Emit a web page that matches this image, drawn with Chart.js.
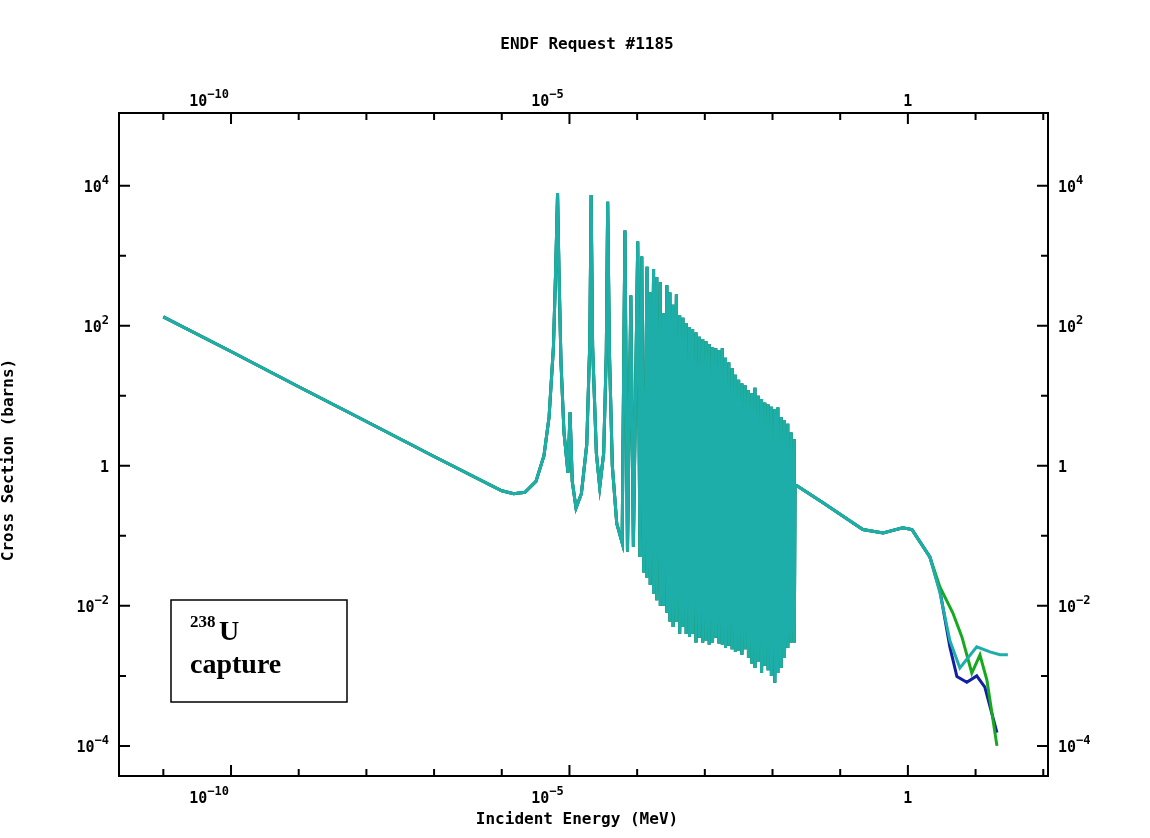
<!DOCTYPE html>
<html>
<head>
<meta charset="utf-8">
<script src="https://cdn.jsdelivr.net/npm/chart.js@4/dist/chart.umd.min.js"></script>
<style>
  body { margin: 0; background: #fff; }
  #wrap { width: 1150px; height: 838px; }
</style>
</head>
<body>
<div id="wrap"><canvas id="myChart" width="1150" height="838"></canvas></div>
<script>
// thermal + low resonances (MeV, barns)
const lowEnergy = [1e-11, 1e-10, 1e-9, 1e-8, 1e-7, 1e-6, 1.5e-6, 2.2e-6, 3.2e-6, 4.2e-6, 5.0e-6, 5.8e-6, 6.3e-6, 6.67e-6,
  7.0e-6, 7.5e-6, 8.3e-6, 9.5e-6, 1.02e-5, 1.1e-5, 1.25e-5, 1.5e-5, 1.8e-5, 2.0e-5, 2.09e-5, 2.2e-5, 2.5e-5, 2.8e-5,
  3.2e-5, 3.5e-5, 3.67e-5, 3.9e-5, 4.3e-5, 5e-5, 6e-5, 6.6e-5, 7.2e-5, 8.07e-5, 8.8e-5, 1.02e-4, 1.1e-4, 1.17e-4, 1.25e-4];
const lowSigma = [134, 43, 13.5, 4.3, 1.36, 0.44, 0.4, 0.42, 0.6, 1.4, 5, 50, 800, 7900,
  600, 30, 3, 0.8, 5.8, 0.6, 0.25, 0.4, 2, 60, 7400, 50, 1.5, 0.5,
  1.5, 40, 5900, 40, 1, 0.15, 0.08, 2300, 0.06, 270, 0.07, 1600, 0.05, 980, 0.03];

// dense resolved resonances: each spike has a top and a bottom value
const spikeEnergy = [1.40e-4, 1.56e-4, 1.75e-4, 1.95e-4, 2.2e-4, 2.45e-4, 2.75e-4, 3.05e-4, 3.4e-4, 3.8e-4, 4.25e-4,
  4.75e-4, 5.3e-4, 5.95e-4, 6.6e-4, 7.4e-4, 8.3e-4, 9.3e-4, 1.04e-3, 1.16e-3, 1.30e-3, 1.45e-3, 1.62e-3, 1.81e-3,
  2.02e-3, 2.26e-3, 2.53e-3, 2.83e-3, 3.16e-3, 3.53e-3, 3.95e-3, 4.41e-3, 4.93e-3, 5.51e-3, 6.16e-3, 6.89e-3, 7.70e-3,
  8.61e-3, 9.62e-3, 1.08e-2, 1.2e-2, 1.34e-2, 1.5e-2, 1.68e-2, 1.88e-2, 2.1e-2];
const spikeTop = [700, 300, 650, 500, 420, 150, 380, 300, 200, 280, 140, 130, 110, 95, 90, 80, 70, 65, 60, 55, 50, 48,
  45, 48, 35, 30, 25, 20, 17, 15, 14, 12, 11, 13, 10, 9, 8, 7.5, 7, 6.5, 6.8, 5, 4.5, 4, 3, 2.4];
const spikeBottom = [0.025, 0.02, 0.015, 0.012, 0.01, 0.01, 0.008, 0.006, 0.005, 0.006, 0.004, 0.005, 0.004, 0.0036,
  0.004, 0.003, 0.0035, 0.003, 0.0032, 0.0028, 0.003, 0.0035, 0.0029, 0.0028, 0.0025, 0.0027, 0.0024, 0.0022, 0.0023,
  0.002, 0.0024, 0.0018, 0.0015, 0.0013, 0.0016, 0.0011, 0.0014, 0.0012, 0.001, 0.0008, 0.0011, 0.0013, 0.0018,
  0.0025, 0.003, 0.003];

// smooth region shared by all evaluations
const highEnergy = [2.15e-2, 5.5e-2, 0.216, 0.43, 0.84, 1.15, 2.11];
const highSigma = [0.54, 0.3, 0.123, 0.11, 0.13, 0.123, 0.05];

// fast region, one tail per library
const tealEnergy = [2.97, 4.17, 5.86, 10.4, 16.3, 22.9, 30];
const tealSigma = [0.0155, 0.0032, 0.0013, 0.0026, 0.0022, 0.002, 0.002];
const blueEnergy = [2.97, 4.17, 5.3, 7.43, 10.4, 13.7, 20.7];
const blueSigma = [0.0166, 0.0026, 0.00098, 0.00081, 0.001, 0.00069, 0.000155];
const greenEnergy = [2.97, 4.62, 6.28, 8.8, 11.6, 14.7, 20.7];
const greenSigma = [0.0186, 0.0079, 0.0036, 0.0011, 0.002, 0.00087, 0.0001];

const xTicks = [1e-11, 1e-10, 1e-9, 1e-8, 1e-7, 1e-6, 1e-5, 1e-4, 1e-3, 1e-2, 1e-1, 1, 10, 100];
const xLabels = { '1e-10': ['10', '\u2212' + '10'], '0.00001': ['10', '\u22125'], '1': ['1', ''] };
const yTicks = [1e-4, 1e-3, 1e-2, 1e-1, 1, 10, 100, 1000, 1e4];
const yLabels = { '0.0001': ['10', '\u22124'], '0.01': ['10', '\u22122'], '1': ['1', ''], '100': ['10', '2'], '10000': ['10', '4'] };

function common() {
  const pts = lowEnergy.map((e, i) => ({ x: e, y: lowSigma[i] }));
  spikeEnergy.forEach((e, i) => {
    pts.push({ x: e, y: spikeTop[i] });
    pts.push({ x: e, y: spikeBottom[i] });
  });
  highEnergy.forEach((e, i) => pts.push({ x: e, y: highSigma[i] }));
  return pts;
}
function withTail(en, sg) {
  return common().concat(en.map((e, i) => ({ x: e, y: sg[i] })));
}

const XMIN = Math.pow(10, -11.655), XMAX = Math.pow(10, 2.07);
const YMIN = Math.pow(10, -4.43), YMAX = Math.pow(10, 5.04);
const BASE = 'bold 15px "DejaVu Sans Mono"', SUP = 'bold 12px "DejaVu Sans Mono"';

function fixTicks(list) {
  return function (scale) { scale.ticks = list.map(v => ({ value: v })); };
}

// draw "10" + raised exponent; anchor: 'right' end at x, 'left' start at x, 'center'
function powLabel(ctx, parts, x, y, anchor) {
  ctx.font = BASE;
  const w1 = ctx.measureText(parts[0]).width;
  ctx.font = SUP;
  const w2 = ctx.measureText(parts[1]).width;
  const w = w1 + w2;
  let x0 = anchor === 'right' ? x - w : anchor === 'left' ? x : x - w / 2;
  ctx.textAlign = 'left';
  ctx.textBaseline = 'alphabetic';
  ctx.font = BASE;
  ctx.fillText(parts[0], x0, y);
  ctx.font = SUP;
  ctx.fillText(parts[1], x0 + w1, y - 8);
}

const frame = {
  id: 'frame',
  afterDraw(chart) {
    const { ctx, chartArea: a } = chart;
    ctx.save();
    ctx.strokeStyle = '#000';
    ctx.fillStyle = '#000';
    ctx.lineWidth = 2;
    ctx.strokeRect(a.left, a.top, a.right - a.left, a.bottom - a.top);
    const xs = chart.scales.x, ys = chart.scales.y;
    xTicks.forEach(v => {
      const p = xs.getPixelForValue(v);
      const lab = xLabels[String(v)];
      const len = lab ? 11 : 7;
      ctx.beginPath();
      ctx.moveTo(p, a.bottom); ctx.lineTo(p, a.bottom - len);
      ctx.moveTo(p, a.top); ctx.lineTo(p, a.top + len);
      ctx.stroke();
      if (lab) {
        const shift = lab[1] ? -22 : 0;
        powLabel(ctx, lab, p + shift, 803, 'center');
        powLabel(ctx, lab, p + shift, 106, 'center');
      }
    });
    yTicks.forEach(v => {
      const p = ys.getPixelForValue(v);
      const lab = yLabels[String(v)];
      const len = lab ? 11 : 7;
      ctx.beginPath();
      ctx.moveTo(a.left, p); ctx.lineTo(a.left + len, p);
      ctx.moveTo(a.right, p); ctx.lineTo(a.right - len, p);
      ctx.stroke();
      if (lab) {
        powLabel(ctx, lab, a.left - 10, p + 6, 'right');
        powLabel(ctx, lab, a.right + 10, p + 6, 'left');
      }
    });
    ctx.font = 'bold 16px "DejaVu Sans Mono"';
    ctx.textAlign = 'center';
    ctx.textBaseline = 'middle';
    ctx.fillText('ENDF Request #1185', 587, 45);
    ctx.fillText('Incident Energy (MeV)', 577, 820);
    ctx.save();
    ctx.translate(9, 460);
    ctx.rotate(-Math.PI / 2);
    ctx.fillText('Cross Section (barns)', 0, 0);
    ctx.restore();
    // annotation box
    ctx.lineWidth = 1.5;
    ctx.fillStyle = '#fff';
    ctx.fillRect(171, 600, 176, 102);
    ctx.strokeRect(171, 600, 176, 102);
    ctx.fillStyle = '#000';
    ctx.textAlign = 'left';
    ctx.textBaseline = 'alphabetic';
    ctx.font = 'bold 17px "Liberation Serif"';
    ctx.fillText('238', 190, 627);
    ctx.font = 'bold 28px "Liberation Serif"';
    ctx.fillText('U', 219, 640);
    ctx.fillText('capture', 190, 673);
    ctx.restore();
  }
};

const hidden = { display: false };
new Chart(document.getElementById('myChart'), {
  type: 'line',
  data: {
    datasets: [
      { label: 'teal', data: withTail(tealEnergy, tealSigma), borderColor: '#1eaeaa', order: 0 },
      { label: 'green', data: withTail(greenEnergy, greenSigma), borderColor: '#18a820', order: 1 },
      { label: 'blue', data: withTail(blueEnergy, blueSigma), borderColor: '#1020a0', order: 2 },
    ].map(d => Object.assign(d, { borderWidth: 3, pointRadius: 0, fill: false, tension: 0 })),
  },
  options: {
    responsive: false,
    animation: false,
    parsing: false,
    normalized: true,
    layout: { padding: 0 },
    plugins: { legend: { display: false }, tooltip: { enabled: false } },
    scales: {
      x: {
        type: 'logarithmic', position: 'bottom', min: XMIN, max: XMAX,
        afterBuildTicks: fixTicks(xTicks), afterFit: s => { s.height = 62; },
        grid: hidden, border: hidden, ticks: hidden,
      },
      x2: {
        type: 'logarithmic', position: 'top', min: XMIN, max: XMAX,
        afterBuildTicks: fixTicks(xTicks), afterFit: s => { s.height = 113; },
        grid: hidden, border: hidden, ticks: hidden,
      },
      y: {
        type: 'logarithmic', position: 'left', min: YMIN, max: YMAX,
        afterBuildTicks: fixTicks(yTicks), afterFit: s => { s.width = 119; },
        grid: hidden, border: hidden, ticks: hidden,
      },
      y2: {
        type: 'logarithmic', position: 'right', min: YMIN, max: YMAX,
        afterBuildTicks: fixTicks(yTicks), afterFit: s => { s.width = 102; },
        grid: hidden, border: hidden, ticks: hidden,
      },
    },
  },
  plugins: [frame],
});
</script>
</body>
</html>
